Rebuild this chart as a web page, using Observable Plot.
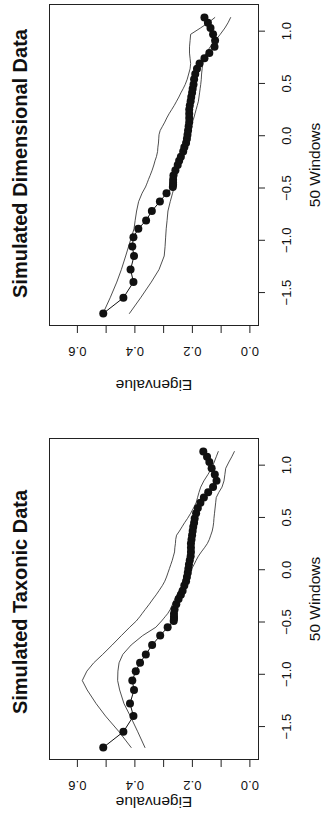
<!DOCTYPE html>
<html>
<head>
<meta charset="utf-8">
<script src="https://cdn.jsdelivr.net/npm/d3@7"></script>
<script src="https://cdn.jsdelivr.net/npm/@observablehq/plot@0.6"></script>
<style>
  html, body { margin: 0; padding: 0; background: #fff; overflow: hidden; width: 325px; height: 829px; }
  #rot { position: absolute; left: 0; top: 0; width: 829px; height: 325px; transform-origin: 0 0; transform: translate(0px, 829px) rotate(-90deg); background: #fff; }
  #p1 { position: absolute; left: 0; top: 0; }
  #p2 { position: absolute; left: 415px; top: 0; }
  svg { overflow: visible; }
</style>
</head>
<body>
<div id="rot"><div id="p1"></div><div id="p2"></div></div>
<script>
// Window positions (x axis: "50 Windows")
const windows = [-1.70,-1.55,-1.40,-1.28,-1.15,-1.06,-0.97,-0.89,-0.81,-0.72,-0.63,-0.55,-0.49,-0.47,-0.45,-0.42,-0.38,-0.33,-0.28,-0.24,-0.20,-0.15,-0.11,-0.07,-0.03,0.01,0.05,0.09,0.13,0.17,0.21,0.25,0.29,0.33,0.37,0.41,0.45,0.49,0.54,0.59,0.64,0.69,0.74,0.79,0.85,0.91,0.97,1.03,1.08,1.13];

// Simulated Taxonic Data
const taxonicObserved = [0.510,0.440,0.405,0.417,0.403,0.409,0.397,0.382,0.362,0.340,0.312,0.286,0.265,0.264,0.264,0.264,0.262,0.256,0.248,0.240,0.234,0.228,0.222,0.219,0.216,0.214,0.212,0.209,0.206,0.205,0.205,0.205,0.203,0.201,0.199,0.197,0.194,0.192,0.187,0.181,0.172,0.160,0.145,0.128,0.116,0.122,0.133,0.141,0.149,0.162];
const taxonicUpper = [0.413,0.455,0.502,0.535,0.566,0.583,0.567,0.543,0.512,0.479,0.447,0.418,0.395,0.389,0.383,0.375,0.364,0.350,0.337,0.326,0.316,0.304,0.296,0.290,0.285,0.280,0.275,0.270,0.266,0.262,0.261,0.259,0.258,0.255,0.245,0.236,0.227,0.217,0.206,0.196,0.187,0.182,0.177,0.171,0.160,0.146,0.133,0.124,0.117,0.110];
const taxonicLower = [0.365,0.390,0.416,0.438,0.453,0.460,0.459,0.455,0.442,0.413,0.373,0.327,0.307,0.301,0.295,0.286,0.277,0.269,0.261,0.254,0.246,0.235,0.226,0.217,0.210,0.202,0.194,0.187,0.179,0.169,0.158,0.148,0.141,0.136,0.131,0.128,0.126,0.125,0.123,0.121,0.119,0.117,0.108,0.097,0.090,0.087,0.084,0.073,0.063,0.054];

// Simulated Dimensional Data
const dimensionalObserved = [0.510,0.440,0.405,0.415,0.403,0.409,0.405,0.388,0.361,0.341,0.313,0.290,0.268,0.267,0.267,0.267,0.266,0.259,0.251,0.246,0.240,0.232,0.228,0.222,0.219,0.217,0.215,0.213,0.211,0.211,0.211,0.211,0.209,0.206,0.204,0.201,0.199,0.196,0.194,0.190,0.184,0.175,0.158,0.141,0.123,0.121,0.128,0.137,0.146,0.158];
const dimensionalUpper = [0.511,0.486,0.463,0.447,0.432,0.422,0.412,0.403,0.399,0.394,0.387,0.375,0.363,0.360,0.357,0.353,0.347,0.340,0.334,0.330,0.325,0.321,0.320,0.318,0.317,0.316,0.312,0.304,0.296,0.289,0.281,0.272,0.263,0.255,0.247,0.240,0.232,0.225,0.218,0.213,0.208,0.206,0.208,0.210,0.210,0.208,0.206,0.172,0.145,0.122];
const dimensionalLower = [0.419,0.380,0.343,0.316,0.298,0.295,0.293,0.291,0.288,0.285,0.277,0.269,0.263,0.261,0.259,0.257,0.254,0.250,0.246,0.243,0.240,0.235,0.231,0.226,0.221,0.216,0.211,0.205,0.200,0.195,0.191,0.187,0.183,0.179,0.177,0.175,0.173,0.171,0.169,0.168,0.166,0.164,0.161,0.152,0.138,0.120,0.103,0.087,0.076,0.067];

// Tick values and labels
const windowTicks = [-1.5,-1.0,-0.5,0.0,0.5,1.0];
const eigenTicks = [0.0,0.1,0.2,0.3,0.4,0.5,0.6];
const eigenLabels = [0.0,0.2,0.4,0.6];
const titles = ["Simulated Taxonic Data","Simulated Dimensional Data"];
const xLabel = "50 Windows";
const yLabel = "Eigenvalue";

const font = "'Liberation Sans', Arial, Helvetica, sans-serif";
const fmt1 = d => d3.format(".1f")(d).replace("-", "\u2212");

function panel(title, obs, up, lo, {width, marginLeft, marginRight, yLabelDx, titleDx}) {
  const toRows = arr => windows.map((w, i) => ({w, v: arr[i]}));
  const O = toRows(obs), U = toRows(up), L = toRows(lo);
  return Plot.plot({
    width, height: 325,
    marginLeft, marginRight, marginTop: 49, marginBottom: 67,
    style: {fontFamily: font, fontSize: "13px", color: "#111", background: "#fff", overflow: "visible"},
    x: {domain: [-1.815, 1.255]},
    y: {domain: [-0.03, 0.697]},
    marks: [
      Plot.frame({stroke: "#222", strokeWidth: 1}),
      Plot.axisY({ticks: eigenTicks, tickSize: 7, fill: "none", label: null, stroke: "#222"}),
      Plot.axisX({ticks: windowTicks, tickSize: 7, fill: "none", label: null, stroke: "#222"}),
      Plot.text(eigenLabels, {y: d => d, text: d => fmt1(d), frameAnchor: "left", dx: -26, rotate: -90, textAnchor: "middle", lineAnchor: "middle", fontSize: 13, fill: "#111"}),
      Plot.text(windowTicks, {x: d => d, text: d => fmt1(d), frameAnchor: "bottom", dy: 28.8, textAnchor: "middle", lineAnchor: "middle", fontSize: 13, fill: "#111"}),
      Plot.text([xLabel], {frameAnchor: "bottom", dy: 57, textAnchor: "middle", lineAnchor: "middle", fontSize: 15.5, fill: "#111"}),
      Plot.text([yLabel], {frameAnchor: "left", dx: yLabelDx, rotate: -90, textAnchor: "middle", lineAnchor: "middle", fontSize: 15.5, fill: "#111"}),
      Plot.text([title], {frameAnchor: "top", dy: -29.4, dx: titleDx, textAnchor: "middle", lineAnchor: "middle", fontSize: 20, fontWeight: "bold", fill: "#111"}),
      Plot.line(U, {x: "w", y: "v", stroke: "#222", strokeWidth: 0.8}),
      Plot.line(L, {x: "w", y: "v", stroke: "#222", strokeWidth: 0.8}),
      Plot.line(O, {x: "w", y: "v", stroke: "#111", strokeWidth: 1}),
      Plot.dot(O, {x: "w", y: "v", r: 4, fill: "#111", stroke: "none"})
    ]
  });
}

document.getElementById("p1").appendChild(panel(titles[0], taxonicObserved, taxonicUpper, taxonicLower,
  {width: 415, marginLeft: 69, marginRight: 25, yLabelDx: -42, titleDx: -3}));
document.getElementById("p2").appendChild(panel(titles[1], dimensionalObserved, dimensionalUpper, dimensionalLower,
  {width: 414, marginLeft: 88, marginRight: 5, yLabelDx: -59, titleDx: 1.5}));
</script>
</body>
</html>
